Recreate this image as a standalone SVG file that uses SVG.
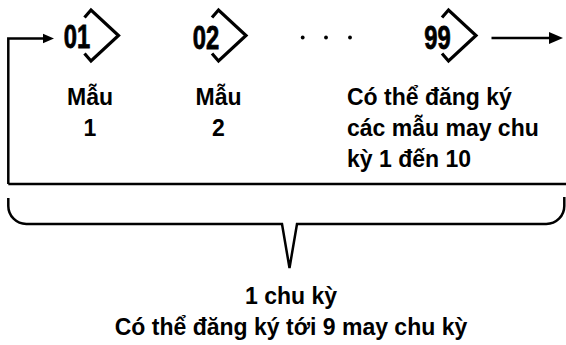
<svg xmlns="http://www.w3.org/2000/svg" width="566" height="345" viewBox="0 0 566 345">
<style>
.ln{fill:none;stroke:#000;stroke-width:2.5}
.chev{fill:none;stroke:#000;stroke-width:3.2;stroke-linejoin:miter}
.num{font-family:"Liberation Sans",Arial,sans-serif;font-weight:bold;font-size:33px;text-anchor:middle;fill:#000;stroke:#000;stroke-width:0.8}
.lbl{font-family:"Liberation Sans",Arial,sans-serif;font-weight:bold;font-size:23px;fill:#000}
.c{text-anchor:middle}
</style>
<defs>
<path id="chevron" class="chev" d="M-6.5,17.5 L0,10 L27.5,35.5 L0,61 L-6.5,53.5"/>
</defs>
<g id="connectors">
<path class="ln" d="M8.3,184 V38.5 H44"/>
<polygon points="43,33.8 54,38.5 43,43.2" fill="#000"/>
<line class="ln" x1="491.5" y1="38" x2="550" y2="38"/>
<polygon points="549,32 563,38 549,44" fill="#000"/>
<line class="ln" x1="8.3" y1="184" x2="566" y2="184"/>
</g>
<g id="step01">
<use href="#chevron" x="91" y="0"/>
<text class="num" transform="translate(77,48.3) scale(0.72,1)">01</text>
<text class="lbl c" x="90" y="105">Mẫu</text>
<text class="lbl c" x="90" y="136">1</text>
</g>
<g id="step02">
<use href="#chevron" x="218.5" y="0"/>
<text class="num" transform="translate(206,48.8) scale(0.72,1)">02</text>
<text class="lbl c" x="218.5" y="105">Mẫu</text>
<text class="lbl c" x="218.5" y="136">2</text>
</g>
<g id="dots">
<circle cx="302.7" cy="37.5" r="1.9"/>
<circle cx="326" cy="37.5" r="1.9"/>
<circle cx="350" cy="37.5" r="1.9"/>
</g>
<g id="step99">
<use href="#chevron" x="448.5" y="0"/>
<text class="num" transform="translate(437.5,48.8) scale(0.72,1)">99</text>
<text class="lbl" x="347" y="105">Có thể đăng ký</text>
<text class="lbl" x="347" y="136">các mẫu may chu</text>
<text class="lbl" x="347" y="167">kỳ 1 đến 10</text>
</g>
<g id="bracket">
<path class="ln" d="M8.3,198 V206 A18,18 0 0 0 26.3,224 H282 L289.5,268 L297,224 H546.3 A18,18 0 0 0 564.3,206 V197"/>
<text class="lbl c" x="291" y="304">1 chu kỳ</text>
<text class="lbl c" x="291" y="335">Có thể đăng ký tới 9 may chu kỳ</text>
</g>
</svg>
